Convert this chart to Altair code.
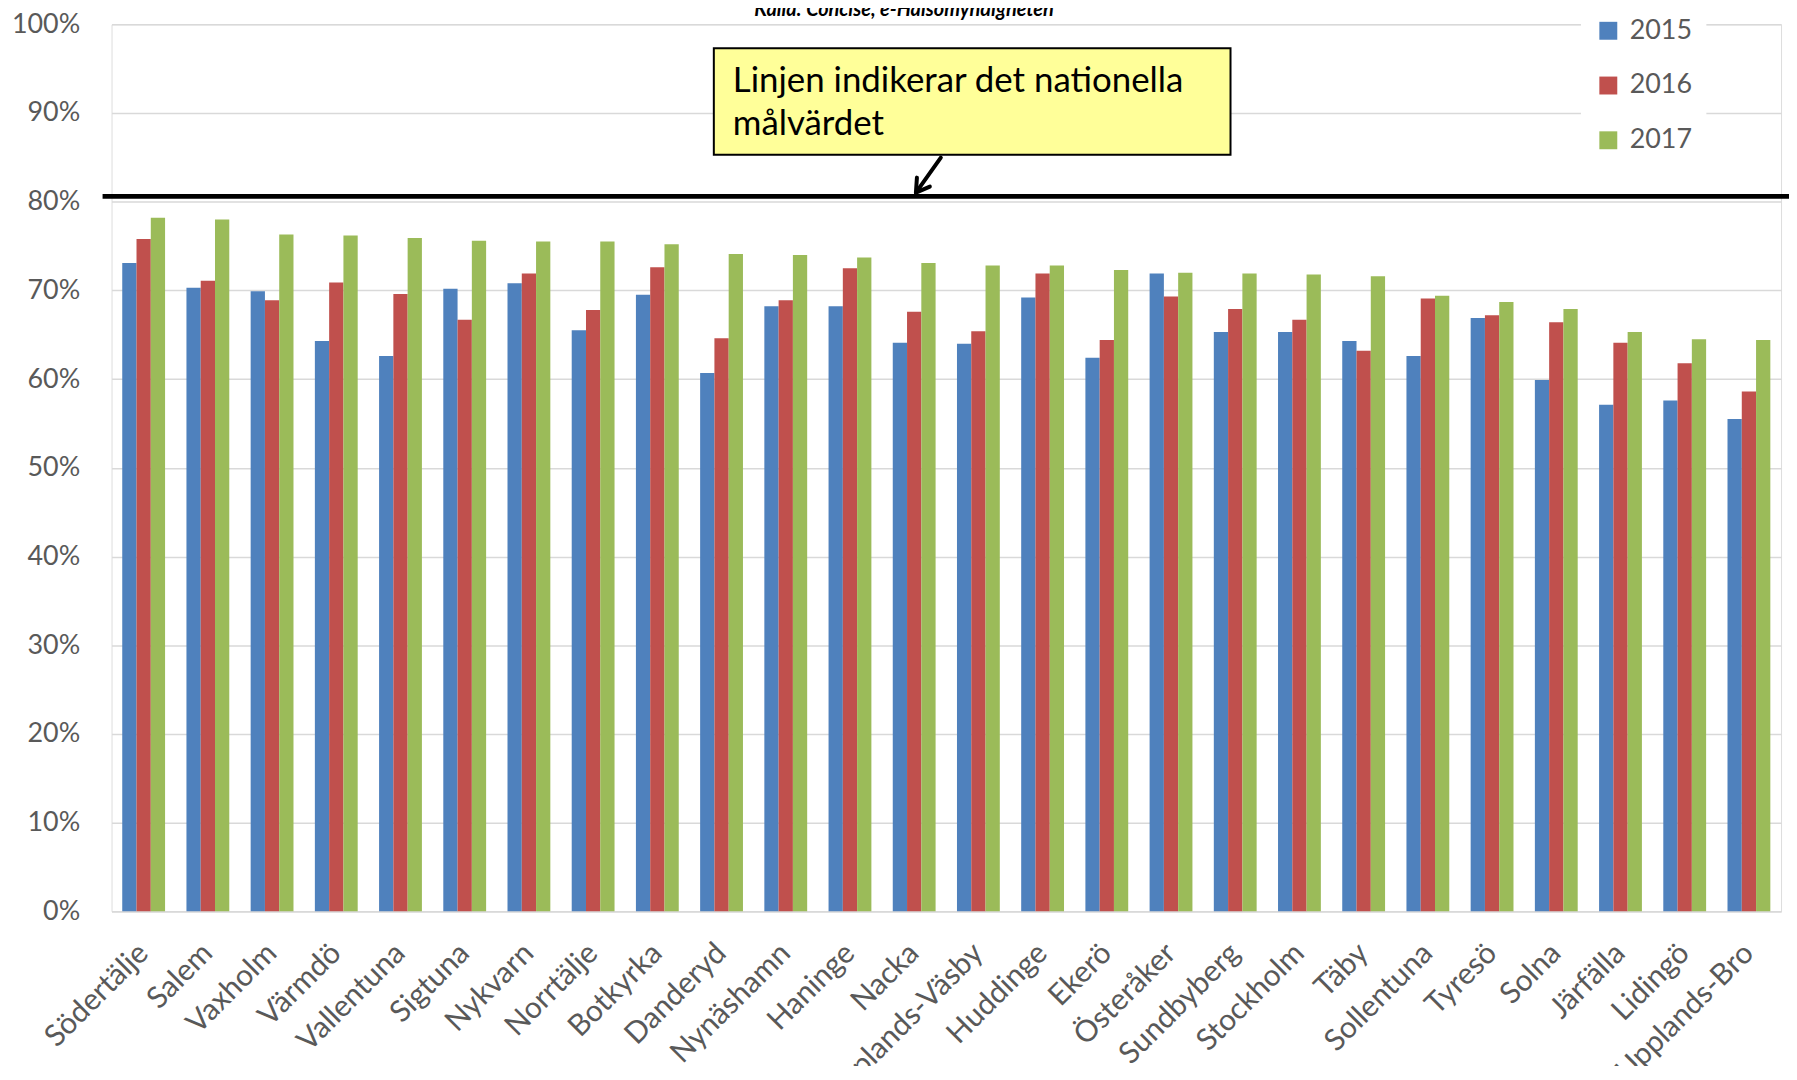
import altair as alt
import pandas as pd

municipalities = ["Södertälje", "Salem", "Vaxholm", "Värmdö", "Vallentuna", "Sigtuna",
                  "Nykvarn", "Norrtälje", "Botkyrka", "Danderyd", "Nynäshamn", "Haninge",
                  "Nacka", "Upplands-Väsby", "Huddinge", "Ekerö", "Österåker", "Sundbyberg",
                  "Stockholm", "Täby", "Sollentuna", "Tyresö", "Solna", "Järfälla",
                  "Lidingö", "Upplands-Bro"]
v2015 = [73.1, 70.3, 69.9, 64.3, 62.6, 70.2, 70.8, 65.5, 69.5, 60.7, 68.2, 68.2, 64.1,
         64.0, 69.2, 62.4, 71.9, 65.3, 65.3, 64.3, 62.6, 66.9, 59.9, 57.1, 57.6, 55.5]
v2016 = [75.8, 71.1, 68.9, 70.9, 69.6, 66.7, 71.9, 67.8, 72.6, 64.6, 68.9, 72.5, 67.6,
         65.4, 71.9, 64.4, 69.3, 67.9, 66.7, 63.2, 69.1, 67.2, 66.4, 64.1, 61.8, 58.6]
v2017 = [78.2, 78.0, 76.3, 76.2, 75.9, 75.6, 75.5, 75.5, 75.2, 74.1, 74.0, 73.7, 73.1,
         72.8, 72.8, 72.3, 72.0, 71.9, 71.8, 71.6, 69.4, 68.7, 67.9, 65.3, 64.5, 64.4]
years = ["2015", "2016", "2017"]
colors = ["#4F81BD", "#C0504D", "#9BBB59"]
y_ticks = [0, 10, 20, 30, 40, 50, 60, 70, 80, 90, 100]
target = 80.6
source_text = "Källa: Concise, e-Hälsomyndigheten"
note_lines = ["Linjen indikerar det nationella", "målvärdet"]

rows = []
for i, m in enumerate(municipalities):
    for yr, vals in zip(years, [v2015, v2016, v2017]):
        rows.append({"kommun": m, "year": yr, "value": vals[i]})
df = pd.DataFrame(rows)

W, H = 1677, 891
FONT = "Lato"
GRAY = "#595959"
GRID = "#D9D9D9"
one = pd.DataFrame({"a": [0]})

x_enc = alt.X("kommun:N", sort=municipalities, title=None,
              scale=alt.Scale(paddingInner=0.333, paddingOuter=0.1667),
              axis=alt.Axis(labelAngle=-45, labelAlign="right", labelBaseline="middle",
                            labelPadding=37, labelFontSize=30, labelColor=GRAY, labelFont=FONT,
                            ticks=False, domainColor=GRID, domainWidth=1.5,
                            labelOverlap=False, labelLimit=0, grid=False))
y_enc = alt.Y("value:Q", title=None, scale=alt.Scale(domain=[0, 100], nice=False),
              axis=alt.Axis(values=y_ticks, labelExpr="datum.value + '%'", ticks=False,
                            labelPadding=32, domain=False, gridColor=GRID, gridWidth=1.5,
                            labelFontSize=27, labelColor=GRAY, labelFont=FONT))

bars = alt.Chart(df).mark_bar().encode(
    x=x_enc,
    xOffset=alt.XOffset("year:N", sort=years, scale=alt.Scale(paddingInner=0, paddingOuter=0)),
    y=y_enc,
    color=alt.Color("year:N", scale=alt.Scale(domain=years, range=colors),
                    legend=alt.Legend(title=None, orient="none", legendX=1476, legendY=-21,
                                      fillColor="white", padding=14, symbolType="square",
                                      symbolSize=324, symbolStrokeWidth=0, labelFontSize=27,
                                      labelColor=GRAY, labelFont=FONT, rowPadding=27,
                                      labelOffset=8)),
)

target_line = alt.Chart(one).mark_rule(color="black", strokeWidth=5).encode(
    y=alt.datum(target), x=alt.value(-9), x2=alt.value(W + 8))

box = alt.Chart(one).mark_rect(fill="#FFFF99", stroke="black", strokeWidth=2).encode(
    x=alt.value(605), x2=alt.value(1124), y=alt.value(24), y2=alt.value(131))

note = alt.Chart(one).mark_text(align="left", baseline="middle", font=FONT, fontSize=35,
                                color="black", lineHeight=43).encode(
    x=alt.value(624), y=alt.value(57), text=alt.value(note_lines))

shaft = alt.Chart(one).mark_rule(color="black", strokeWidth=4, strokeCap="round").encode(
    x=alt.value(833), y=alt.value(134), x2=alt.value(808), y2=alt.value(169))
arm1 = alt.Chart(one).mark_rule(color="black", strokeWidth=4, strokeCap="round").encode(
    x=alt.value(808), y=alt.value(169), x2=alt.value(822), y2=alt.value(163))
arm2 = alt.Chart(one).mark_rule(color="black", strokeWidth=4, strokeCap="round").encode(
    x=alt.value(808), y=alt.value(169), x2=alt.value(809), y2=alt.value(154))

source = alt.Chart(one).mark_text(align="center", baseline="alphabetic", font=FONT,
                                  fontSize=20, fontStyle="italic", fontWeight="bold",
                                  color="black").encode(
    x=alt.value(796), y=alt.value(-8), text=alt.value(source_text))

chart = alt.layer(bars, target_line, box, note, shaft, arm1, arm2, source).properties(
    width=W, height=H,
    padding={"left": 104, "top": 14, "right": 8, "bottom": 153},
    autosize=alt.AutoSizeParams(type="none"),
).configure_view(strokeWidth=0).configure(background="white")

chart.save("out.html", embed_options={"renderer": "svg", "actions": False})
